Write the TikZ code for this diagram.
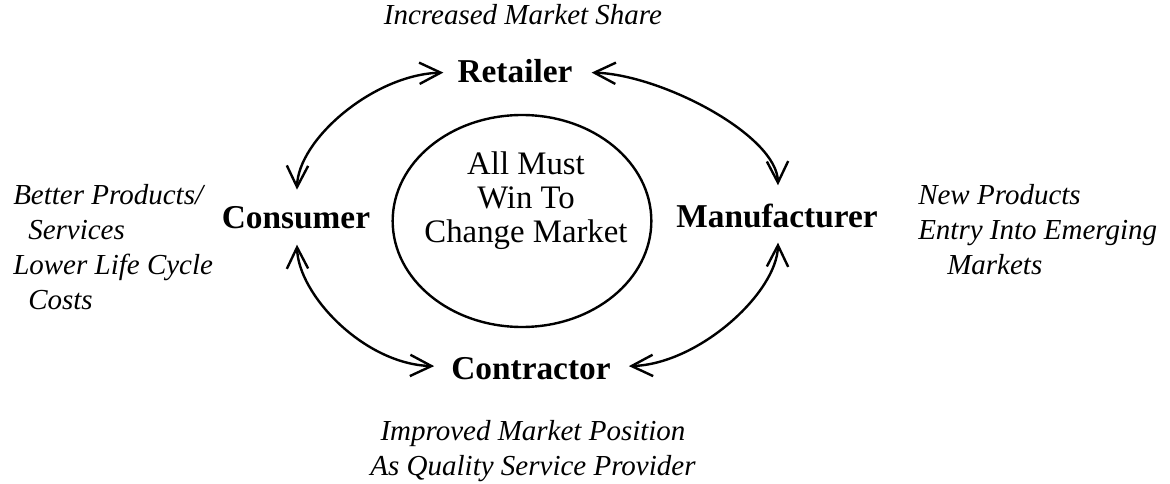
\documentclass[tikz,border=0pt]{standalone}
\usepackage{fontspec}
\setmainfont{Liberation Serif}
\usetikzlibrary{arrows.meta,shapes.geometric,calc}
\tikzset{
  lbl/.style={font=\fontsize{25}{30}\selectfont\bfseries, inner sep=0pt, anchor=base},
  note/.style={font=\fontsize{21.75}{26}\selectfont\itshape, inner sep=0pt},
  midtext/.style={font=\fontsize{24.6}{25.5}\selectfont, inner sep=0pt, align=center},
  arr/.style={line width=1.8pt, {Straight Barb[length=16pt,width=16pt]}-{Straight Barb[length=16pt,width=16pt]}},
  oval/.style={draw, ellipse, line width=1.8pt, minimum width=194pt, minimum height=159pt, inner sep=0pt}
}
\begin{document}
\begin{tikzpicture}[x=0.75pt,y=-0.75pt]
\useasboundingbox (0,0) rectangle (1170,484);
% main nodes
\node[lbl] (ret) at (515,83) {Retailer};
\node[lbl] (cons) at (296,229) {Consumer};
\node[lbl] (man) at (777,228) {Manufacturer};
\node[lbl] (ctr) at (531,379) {Contractor};
% centre
\node[oval] (mid) at (522,221) {};
\node[midtext] (midtxt) at (526,201) {All Must\\Win To\\Change Market};
% notes
\node[note, anchor=base] (n1) at (523,25) {Increased Market Share};
\node[note, anchor=base west] (l1) at (13,205) {Better Products/};
\node[note, anchor=base west] (l2) at (28,240) {Services};
\node[note, anchor=base west] (l3) at (13,275) {Lower Life Cycle};
\node[note, anchor=base west] (l4) at (28,310) {Costs};
\node[note, anchor=base west] (r1) at (918,205) {New Products};
\node[note, anchor=base west] (r2) at (918,240) {Entry Into Emerging};
\node[note, anchor=base west] (r3) at (947,275) {Markets};
\node[note, anchor=base] (b1) at (533,440) {Improved Market Position};
\node[note, anchor=base] (b2) at (533,475) {As Quality Service Provider};
% connectors
\draw[arr] ($(ret.west)+(-14,1)$) .. controls +(-70,2) and +(1,-50) .. ($(cons.north)+(1,-17)$);
\draw[arr] ($(ret.east)+(19,1)$) .. controls +(70,2) and +(-1,-50) .. ($(man.north)+(1,-19)$);
\draw[arr] ($(cons.south)+(1,15)$) .. controls +(1,50) and +(-70,-2) .. ($(ctr.west)+(-17,-2)$);
\draw[arr] ($(man.south)+(1,14)$) .. controls +(-1,50) and +(70,-2) .. ($(ctr.east)+(18,-2)$);
\end{tikzpicture}
\end{document}
